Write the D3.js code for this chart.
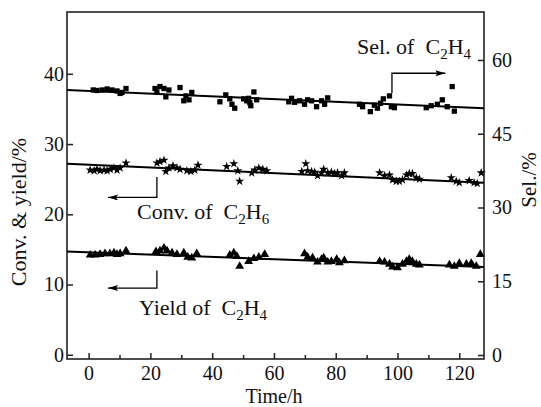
<!DOCTYPE html>
<html>
<head>
<meta charset="utf-8">
<script src="https://cdn.jsdelivr.net/npm/d3@7"></script>
<style>
  body { margin: 0; background: #fff; }
  text { font-family: "Liberation Serif", "Times New Roman", serif; fill: #111; }
</style>
</head>
<body>
<div id="chart"></div>
<script>
// data: time (h) and value
const selTime = [1.5, 2.7, 4.4, 6.0, 7.6, 9.2, 10.2, 10.8, 12.1, 21.5, 22.1, 23.1, 24.4, 25.0, 26.0,
    29.6, 30.8, 31.5, 32.5, 33.4, 42.5, 44.4, 45.7, 46.4, 47.3, 50.2, 51.2, 51.8, 52.2, 52.5, 53.5,
    54.4, 64.8, 65.7, 66.7, 68.3, 69.9, 70.9, 72.2, 73.8, 75.4, 76.4, 77.4, 87.7, 88.7, 91.2, 92.5,
    93.5, 94.5, 95.4, 97.4, 98.0, 99.0, 109.3, 110.9, 112.9, 114.5, 116.1, 118.4, 117.7];
const selValue = [53.9, 53.8, 53.9, 54.1, 53.9, 53.7, 53.2, 53.4, 54.2, 54.2, 53.5, 54.6, 54.2, 52.5, 53.9,
    54.4, 51.7, 52.7, 51.9, 53.4, 51.5, 52.9, 52.1, 51.0, 50.2, 52.1, 51.7, 52.2, 51.3, 50.7, 53.5,
    51.9, 51.5, 52.2, 51.4, 51.7, 51.0, 51.9, 51.7, 50.5, 51.7, 51.0, 52.3, 51.0, 50.5, 49.5, 50.8,
    50.2, 51.2, 52.1, 52.7, 50.5, 50.3, 50.3, 50.7, 51.0, 51.9, 50.5, 49.6, 54.6];

const convTime = [0.5, 1.8, 2.7, 3.7, 5.0, 6.0, 7.0, 8.2, 9.2, 10.2, 12.1, 22.1, 23.1, 24.4, 25.0,
    26.0, 27.3, 28.6, 29.6, 31.8, 33.1, 34.4, 35.4, 44.7, 47.0, 48.3, 48.9, 52.8, 53.8, 55.1, 56.4,
    57.7, 69.0, 70.3, 70.9, 72.2, 73.2, 74.1, 75.4, 76.1, 77.4, 78.6, 79.6, 80.6, 81.9, 82.8, 94.2,
    95.8, 97.4, 98.4, 99.6, 100.6, 101.6, 102.9, 103.8, 104.8, 106.1, 107.1, 117.4, 119.0, 120.0,
    123.2, 124.8, 125.8, 127.1];
const convValue = [26.3, 26.2, 26.4, 26.2, 26.3, 26.2, 26.4, 26.6, 26.3, 26.6, 27.3, 27.3, 27.5, 27.7, 26.1,
    26.6, 26.9, 26.6, 26.4, 26.2, 26.1, 26.3, 27.0, 26.8, 27.2, 26.2, 24.7, 25.9, 26.3, 26.6, 26.4,
    26.2, 26.1, 27.2, 26.2, 26.1, 26.0, 25.5, 25.9, 26.4, 25.9, 26.0, 25.8, 25.9, 25.5, 25.9, 25.9,
    25.5, 25.6, 24.9, 24.7, 24.7, 24.9, 25.6, 25.8, 25.8, 25.2, 25.0, 25.2, 24.7, 24.5,
    24.8, 24.5, 24.4, 25.9];

const yieldTime = [0.5, 2.1, 3.7, 5.3, 6.9, 8.2, 9.2, 10.2, 12.1, 21.8, 23.1, 24.4, 25.4, 27.0, 28.6,
    30.8, 32.1, 33.4, 35.0, 45.7, 47.0, 48.0, 48.9, 51.8, 53.5, 55.1, 57.0, 69.9, 70.9, 72.5, 74.1,
    75.4, 76.1, 77.4, 78.6, 80.3, 81.2, 82.8, 94.2, 95.8, 97.4, 98.4, 100.0, 101.6, 102.9, 103.8,
    104.8, 106.1, 107.1, 116.8, 118.4, 120.0, 122.3, 123.9, 125.5, 126.8];
const yieldValue = [14.2, 14.2, 14.3, 14.4, 14.4, 14.5, 14.3, 14.4, 14.8, 14.7, 14.8, 15.2, 14.8, 14.5, 14.3,
    14.5, 13.9, 13.8, 14.4, 14.2, 14.5, 14.0, 12.6, 13.3, 13.7, 13.9, 14.3, 14.4, 13.9, 13.8, 13.2,
    13.6, 13.8, 13.2, 13.3, 13.6, 13.1, 13.4, 13.3, 13.2, 12.9, 12.5, 12.4, 12.9, 13.3, 13.6,
    13.3, 12.9, 12.8, 12.8, 12.6, 13.0, 12.9, 13.0, 12.6, 14.3];

// fitted trend lines (end points)
const fitTime = [-7, 128];
const selFit = [53.9, 50.2];
const convFit = [27.2, 24.5];
const yieldFit = [14.7, 12.5];

const xTicks = [0, 20, 40, 60, 80, 100, 120];
const xMinorTicks = [10, 30, 50, 70, 90, 110];
const leftTicks = [0, 10, 20, 30, 40];
const rightTicks = [0, 15, 30, 45, 60];

const width = 541, height = 407;
const margin = {top: 12, right: 57, bottom: 48, left: 67};
const boundW = width - margin.left - margin.right;
const boundH = height - margin.top - margin.bottom;

const svg = d3.select('#chart').append('svg')
    .attr('width', width)
    .attr('height', height);

const bounds = svg.append('g')
    .attr('transform', `translate(${margin.left},${margin.top})`);

const xScale = d3.scaleLinear().domain([-7, 128]).range([0, boundW]);
const yLeft = d3.scaleLinear().domain([-0.6, 48.8]).range([boundH, 0]);
const yRight = d3.scaleLinear().domain([-0.81, 69.76]).range([boundH, 0]);

// axes (ticks pointing inwards)
const xAxis = bounds.append('g')
    .attr('transform', `translate(0,${boundH})`)
    .call(d3.axisBottom(xScale).tickValues(xTicks).tickSizeInner(-6).tickSizeOuter(0).tickPadding(7));
const xMinor = bounds.append('g')
    .attr('transform', `translate(0,${boundH})`)
    .call(d3.axisBottom(xScale).tickValues(xMinorTicks).tickSizeInner(-4).tickSizeOuter(0).tickFormat(''));
const yAxisL = bounds.append('g')
    .call(d3.axisLeft(yLeft).tickValues(leftTicks).tickSizeInner(-6).tickSizeOuter(0).tickPadding(3));
const yAxisR = bounds.append('g')
    .attr('transform', `translate(${boundW},0)`)
    .call(d3.axisRight(yRight).tickValues(rightTicks).tickSizeInner(-6).tickSizeOuter(0).tickPadding(8));

[xAxis, xMinor, yAxisL, yAxisR].forEach(a => {
    a.select('.domain').remove();
    a.selectAll('line').attr('stroke', '#222').attr('stroke-width', 1.5);
    a.selectAll('text').style('font-size', '20px').attr('fill', '#111');
});

// frame
bounds.append('rect')
    .attr('width', boundW)
    .attr('height', boundH)
    .attr('fill', 'none')
    .attr('stroke', '#222')
    .attr('stroke-width', 1.6);

// trend lines
const fitLine = d3.line().x(d => xScale(d[0])).y(d => d[2](d[1]));
[[selFit, yRight], [convFit, yLeft], [yieldFit, yLeft]].forEach(([vals, sc]) => {
    bounds.append('path')
        .attr('d', fitLine(fitTime.map((t, i) => [t, vals[i], sc])))
        .attr('fill', 'none')
        .attr('stroke', '#000')
        .attr('stroke-width', 2);
});

// markers
const marks = bounds.append('g');
marks.selectAll('.sel').data(selTime).join('path')
    .attr('class', 'sel')
    .attr('d', d3.symbol(d3.symbolSquare, 28)())
    .attr('transform', (d, i) => `translate(${xScale(d)},${yRight(selValue[i])})`)
    .attr('fill', '#000');
marks.selectAll('.conv').data(convTime).join('path')
    .attr('class', 'conv')
    .attr('d', d3.symbol(d3.symbolStar, 26)())
    .attr('transform', (d, i) => `translate(${xScale(d)},${yLeft(convValue[i])})`)
    .attr('fill', '#000');
marks.selectAll('.yld').data(yieldTime).join('path')
    .attr('class', 'yld')
    .attr('d', d3.symbol(d3.symbolTriangle, 34)())
    .attr('transform', (d, i) => `translate(${xScale(d)},${yLeft(yieldValue[i])})`)
    .attr('fill', '#000');

// annotation arrows
svg.append('defs').append('marker')
    .attr('id', 'head')
    .attr('viewBox', '0 0 10 6')
    .attr('refX', 10).attr('refY', 3)
    .attr('markerWidth', 11).attr('markerHeight', 6)
    .attr('markerUnits', 'userSpaceOnUse')
    .attr('orient', 'auto')
    .append('path').attr('d', 'M0,0L10,3L0,6L2,3Z').attr('fill', '#000');

const arrow = d3.line().x(d => xScale(d[0])).y(d => d[1]);
function drawArrow(pts) {
    bounds.append('path')
        .attr('d', arrow(pts))
        .attr('fill', 'none')
        .attr('stroke', '#000')
        .attr('stroke-width', 1.3)
        .attr('marker-end', 'url(#head)');
}
drawArrow([[98.2, yRight(52.7) - 3], [98.2, yRight(57.3)], [115.5, yRight(57.3)]]);
drawArrow([[22.1, yLeft(25.3)], [22.1, yLeft(22.4)], [6.3, yLeft(22.4)]]);
drawArrow([[22.1, yLeft(12.0)], [22.1, yLeft(9.5)], [6.3, yLeft(9.5)]]);

// labels with subscripts
function label(x, y, parts) {
    const t = svg.append('text').attr('x', x).attr('y', y).style('font-size', '22px');
    parts.forEach(p => {
        const s = t.append('tspan').text(p[0]);
        if (p[1] === 'sub') s.style('font-size', '15px').attr('dy', 5);
        if (p[1] === 'up') s.attr('dy', -5);
    });
}
label(357, 54, [['Sel. of\u00a0 C'], ['2', 'sub'], ['H', 'up'], ['4', 'sub']]);
label(137, 219, [['Conv. of\u00a0 C'], ['2', 'sub'], ['H', 'up'], ['6', 'sub']]);
label(139, 315, [['Yield of\u00a0 C'], ['2', 'sub'], ['H', 'up'], ['4', 'sub']]);

// axis titles
svg.append('text')
    .attr('x', xScale(60) + margin.left)
    .attr('y', 403)
    .attr('text-anchor', 'middle')
    .style('font-size', '20px')
    .text('Time/h');
svg.append('text')
    .attr('transform', 'translate(26,212) rotate(-90)')
    .attr('text-anchor', 'middle')
    .style('font-size', '22px')
    .text('Conv. & yield/%');
svg.append('text')
    .attr('transform', 'translate(536,180) rotate(-90)')
    .attr('text-anchor', 'middle')
    .style('font-size', '21px')
    .text('Sel./%');
</script>
</body>
</html>
